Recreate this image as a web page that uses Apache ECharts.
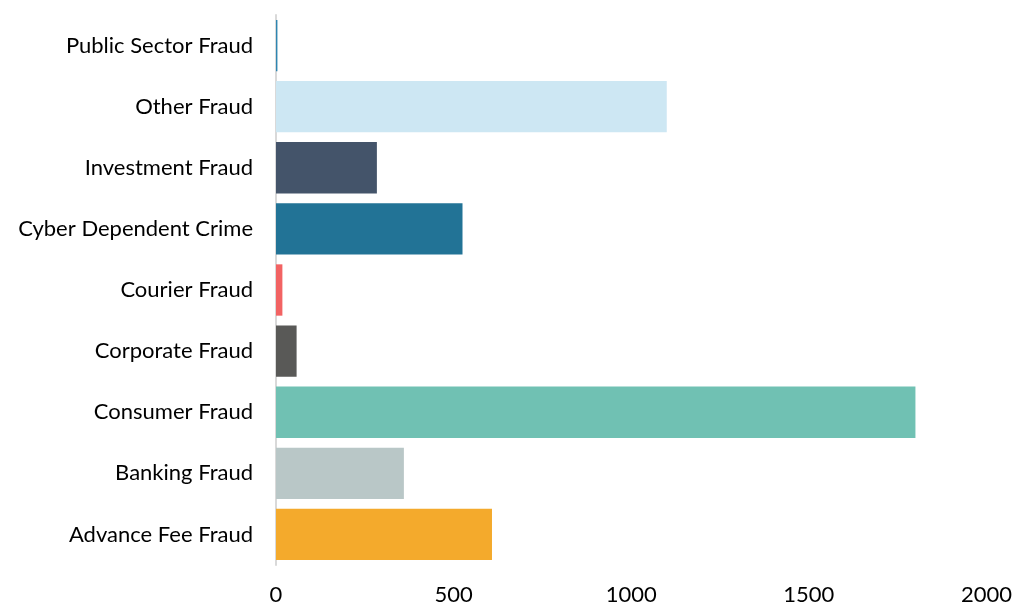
<!DOCTYPE html>
<html>
<head>
<meta charset="utf-8">
<script src="https://cdn.jsdelivr.net/npm/echarts@6/dist/echarts.min.js"></script>
<style>
html,body{margin:0;padding:0;background:#fff;}
#chart{width:1015px;height:608px;}
</style>
</head>
<body>
<div id="chart"></div>
<script>
// categories listed bottom to top
var categories = ['Advance Fee Fraud','Banking Fraud','Consumer Fraud','Corporate Fraud','Courier Fraud','Cyber Dependent Crime','Investment Fraud','Other Fraud','Public Sector Fraud'];
var values = [608, 360, 1800, 58, 18, 525, 284, 1100, 4];
var barColors = ['#F4AA2C','#B9C7C7','#70C1B3','#595957','#F26363','#227396','#44546A','#CDE7F3','#2E85B0'];
var xTicks = [0, 500, 1000, 1500, 2000];

var chart = echarts.init(document.getElementById('chart'));
var option = {
    animation:false,
    grid:{
        left:276,
        right:27,
        top:15,
        bottom:43
    },
    xAxis:{
        type:'value',
        min:xTicks[0],
        max:xTicks[xTicks.length-1],
        interval:500,
        axisLine:{show:false},
        axisTick:{show:false},
        splitLine:{show:false},
        axisLabel:{
            color:'#000',
            fontFamily:'Lato',
            fontSize:22,
            margin:19,
            formatter:function(v){ return String(v); }
        }
    },
    yAxis:{
        type:'category',
        data:categories,
        axisLine:{show:true,lineStyle:{color:'#D9D9D9',width:2}},
        axisTick:{show:false},
        axisLabel:{
            color:'#000',
            fontFamily:'Lato',
            fontSize:22,
            margin:23
        }
    },
    series:[
        {
            type:'bar',
            data:values.map(function(v,i){
                return {value:v,itemStyle:{color:barColors[i]}};
            }),
            barCategoryGap:'16%'
        }
    ]
};
chart.setOption(option);
</script>
</body>
</html>
